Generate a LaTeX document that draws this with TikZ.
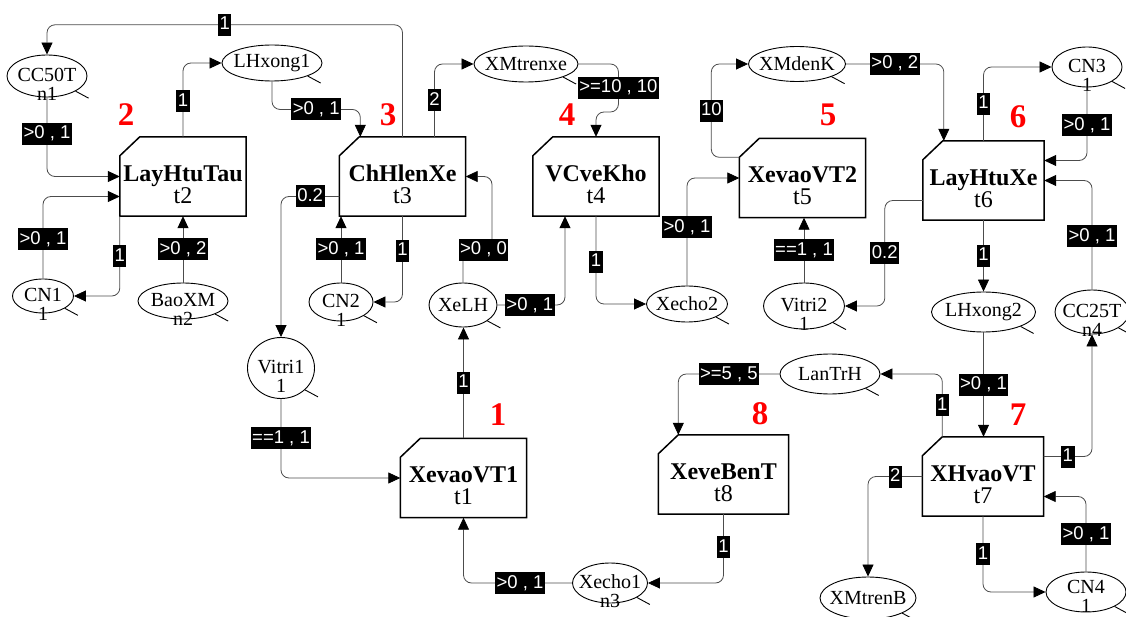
\documentclass[tikz,border=0pt]{standalone}
\usepackage{fontspec}
\setmainfont{Liberation Serif}
\newfontfamily\labfont{Liberation Sans}
\usetikzlibrary{arrows.meta, shapes.geometric}

\tikzset{
  place/.style={ellipse, draw, line width=0.9pt, fill=white, inner sep=0pt},
  pname/.style={label={center:#1}},
  pmark/.style 2 args={label={[yshift=-8pt]center:#1\\#2}},
  trans/.style={minimum width=126pt, minimum height=79pt, inner sep=0pt},
  tname/.style 2 args={label={[font=\fontsize{24}{22}\selectfont, yshift=-8pt]center:\textbf{#1}\\#2}},
  tborder/.style={line width=1.5pt},
  flow/.style={draw=black!70, line width=0.8pt, rounded corners=8pt,
    -{Triangle[length=12pt, width=11pt, color=black]}},
  lab/.style={sharp corners, fill=black, text=white, font=\labfont\fontsize{18.5}{18.5}\selectfont,
    inner xsep=1.5pt, inner ysep=2pt, text height=14pt, text depth=4pt},
  stagenum/.style={text=red, font=\fontsize{33}{33}\selectfont\bfseries},
  tick/.style={line width=0.9pt},
  every label/.style={align=center, inner sep=0pt, font=\fontsize{20}{19}\selectfont}
}

\begin{document}
\begin{tikzpicture}[x=1pt, y=-1pt]
\useasboundingbox (0,0) rectangle (1126,617);

% places
\node[place, minimum width=80pt, minimum height=42pt, pmark={CC50T}{n1}] (cc50t) at (47,76) {};
\node[place, minimum width=100pt, minimum height=36pt, pname=LHxong1] (lhxong1) at (272,63) {};
\node[place, minimum width=104pt, minimum height=36pt, pname=XMtrenxe] (xmtrenxe) at (526,64) {};
\node[place, minimum width=97pt, minimum height=35pt, pname=XMdenK] (xmdenk) at (797,64) {};
\node[place, minimum width=70pt, minimum height=40pt, pmark={CN3}{1}] (cn3) at (1087,67) {};
\node[place, minimum width=61pt, minimum height=34pt, pmark={CN1}{1}] (cn1) at (43,296) {};
\node[place, minimum width=90pt, minimum height=36pt, pmark={BaoXM}{n2}] (baoxm) at (183,301) {};
\node[place, minimum width=64pt, minimum height=38pt, pmark={CN2}{1}] (cn2) at (341,302) {};
\node[place, minimum width=68pt, minimum height=44pt, pname=XeLH] (xelh) at (463,305) {};
\node[place, minimum width=81pt, minimum height=36pt, pname=Xecho2] (xecho2) at (687,304) {};
\node[place, minimum width=81pt, minimum height=46pt, pmark={Vitri2}{1}] (vitri2) at (804,306) {};
\node[place, minimum width=104pt, minimum height=40pt, pname=LHxong2] (lhxong2) at (983.5,312) {};
\node[place, minimum width=74pt, minimum height=44pt, pmark={CC25T}{n4}] (cc25t) at (1092,312) {};
\node[place, minimum width=67pt, minimum height=61pt, pmark={Vitri1}{1}] (vitri1) at (281,368) {};
\node[place, minimum width=100pt, minimum height=40pt, pname=LanTrH] (lantrh) at (830,374) {};
\node[place, minimum width=96pt, minimum height=42pt, pname=XMtrenB] (xmtrenb) at (868,598) {};
\node[place, minimum width=80pt, minimum height=40pt, label={[yshift=-4pt]center:CN4\\1}] (cn4) at (1086,592) {};
\node[place, minimum width=75pt, minimum height=40pt, pmark={Xecho1}{n3}] (xecho1) at (610,583) {};

\foreach \p in {cc50t,lhxong1,xmtrenxe,xmdenk,cn3,cn1,baoxm,cn2,xelh,xecho2,vitri2,lhxong2,cc25t,vitri1,lantrh,xmtrenb,cn4,xecho1}
  \draw[tick] (\p.south east) -- ++(13,7);

% transitions
\node[trans, tname={XevaoVT1}{t1}] (t1) at (463.5,478) {};
\node[trans, tname={LayHtuTau}{t2}] (t2) at (183,176.5) {};
\node[trans, tname={ChHlenXe}{t3}] (t3) at (402.5,176.5) {};
\node[trans, tname={VCveKho}{t4}] (t4) at (596,176.5) {};
\node[trans, tname={XevaoVT2}{t5}] (t5) at (802.5,178) {};
\node[trans, minimum width=121pt, tname={LayHtuXe}{t6}] (t6) at (983.5,180.5) {};
\node[trans, minimum width=121pt, tname={XHvaoVT}{t7}] (t7) at (983,476.5) {};
\node[trans, minimum width=130pt, tname={XeveBenT}{t8}] (t8) at (723.5,474.5) {};

\foreach \t in {t1,t2,t3,t4,t5,t6,t7,t8}
  \draw[tborder] (\t.south west) -- ([yshift=-19pt]\t.north west) -- ([xshift=20pt]\t.north west)
    -- (\t.north east) -- (\t.south east) -- cycle;

\foreach \n/\x/\y in {1/498/415, 2/126/115, 3/388/115, 4/567/115, 5/828/115, 6/1018/117, 7/1018/415, 8/760/414}
  \node[stagenum] (s\n) at (\x,\y) {\n};

% arcs of t2
\draw[flow] (cc50t.south) |- node[lab, pos=0.23] (w1) {>0 , 1} (t2.west);
\draw[flow] (cn1.north) |- node[lab, pos=0.24] (w2) {>0 , 1} ([yshift=-20pt]t2.west);
\draw[flow] (baoxm.north) -- node[lab] (w3) {>0 , 2} (baoxm.north |- t2.south);
\draw[flow] (t2.north) |- node[lab, pos=0.24] (w4) {1} (lhxong1.west);
\draw[flow] (t2.south west) |- node[lab, pos=0.25] (w5) {1} (cn1.east);
% arcs of t3
\draw[flow] (lhxong1.south) -- ++(0,28) -| node[lab, pos=0.25] (w6) {>0 , 1} ([xshift=21pt]t3.north west);
\draw[flow] (cn2.north) -- node[lab] (w7) {>0 , 1} (cn2.north |- t3.south);
\draw[flow] (xelh.north) -- ++(0,-33) -- node[lab, xshift=6pt] (w8) {>0 , 0} ++(29,0) |- (t3.east);
\draw[flow] (t3.north) -- ++(0,-112) -| node[lab, pos=0.25] (w9) {1} (cc50t.north);
\draw[flow] ([xshift=32pt]t3.north) |- node[lab, pos=0.25] (w10) {2} (xmtrenxe.west);
\draw[flow] (t3.south) |- node[lab, pos=0.2] (w11) {1} (cn2.east);
\draw[flow] ([yshift=-20pt]t3.west) -| node[lab, pos=0.25] (w12) {0.2} (vitri1.north);
% arcs of t4
\draw[flow] (xmtrenxe.east) -- ++(40,0) -- node[lab] (w13) {>=10 , 10} ++(0,48) -| (t4.north);
\draw[flow] (xelh.east) -| node[lab, pos=0.24] (w14) {>0 , 1} ([xshift=-31pt]t4.south);
\draw[flow] (t4.south) |- node[lab, pos=0.26] (w15) {1} (xecho2.west);
% arcs of t5
\draw[flow] (xecho2.north) |- node[lab, pos=0.27] (w16) {>0 , 1} (t5.west);
\draw[flow] (vitri2.north) -- node[lab] (w17) {==1 , 1} (vitri2.north |- t5.south);
\draw[flow] ([yshift=-19pt]t5.north west) -- ++(-28,0) |- node[lab, pos=0.25] (w18) {10} (xmdenk.west);
% arcs of t6
\draw[flow] (xmdenk.east) -| node[lab, pos=0.25] (w19) {>0 , 2} ([xshift=21pt]t6.north west);
\draw[flow] (cn3.south) |- node[lab, pos=0.26] (w20) {>0 , 1} ([yshift=20pt]t6.east);
\draw[flow] (cc25t.north) |- node[lab, pos=0.245] (w21) {>0 , 1} (t6.east);
\draw[flow] (t6.north) |- node[lab, pos=0.25] (w22) {1} (cn3.west);
\draw[flow] (t6.south) -- node[lab] (w23) {1} (t6.south |- lhxong2.north);
\draw[flow] ([yshift=-20pt]t6.west) -- ++(-38,0) |- node[lab, pos=0.25] (w24) {0.2} (vitri2.east);
% arcs of t1
\draw[flow] (vitri1.south) |- node[lab, pos=0.25] (w25) {==1 , 1} (t1.west);
\draw[flow] (xecho1.west) -| node[lab, pos=0.24] (w26) {>0 , 1} (t1.south);
\draw[flow] (t1.north) -- node[lab] (w27) {1} (t1.north |- xelh.south);
% arcs of t8
\draw[flow] (lantrh.west) -| node[lab, pos=0.25] (w28) {>=5 , 5} ([xshift=20pt]t8.north west);
\draw[flow] (t8.south) |- node[lab, pos=0.24] (w29) {1} (xecho1.east);
% arcs of t7
\draw[flow] (lhxong2.south) -- node[lab] (w30) {>0 , 1} (lhxong2.south |- t7.north);
\draw[flow] (cn4.north) |- node[lab, pos=0.25] (w31) {>0 , 1} ([yshift=-20pt]t7.east);
\draw[flow] ([xshift=20pt]t7.north west) |- node[lab, pos=0.25] (w32) {1} (lantrh.east);
\draw[flow] ([yshift=20pt]t7.east) -| node[lab, pos=0.25] (w33) {1} (cc25t.south);
\draw[flow] (t7.west) -| node[lab, pos=0.25] (w34) {2} (xmtrenb.north);
\draw[flow] (t7.south) |- node[lab, pos=0.25] (w35) {1} (cn4.west);
\end{tikzpicture}
\end{document}
